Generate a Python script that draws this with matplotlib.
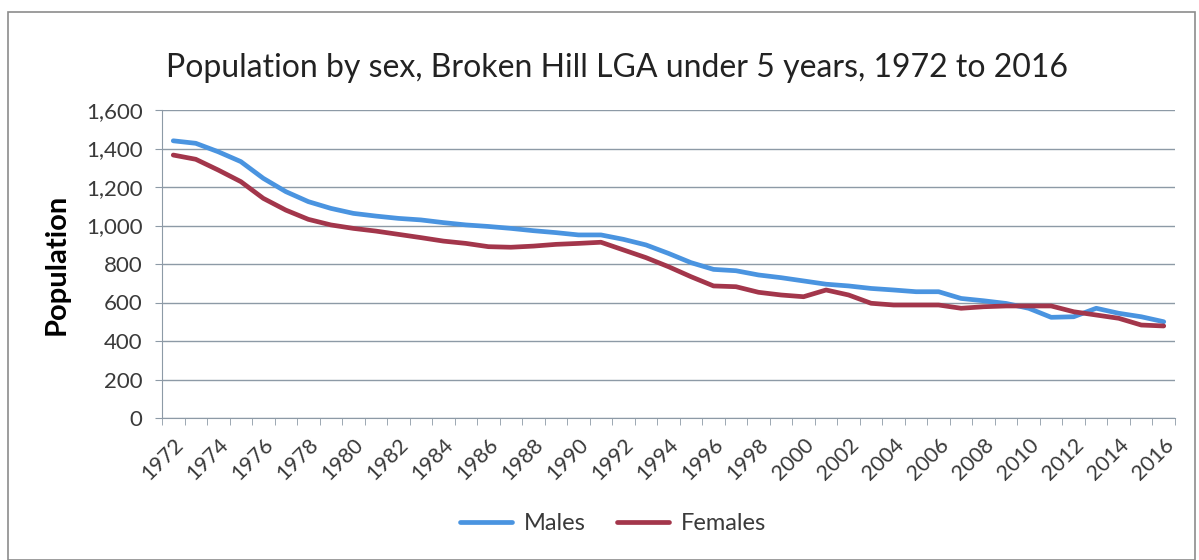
import matplotlib
matplotlib.use("Agg")
import matplotlib.pyplot as plt
from matplotlib.patches import Rectangle

years = list(range(1972, 2017))
males = [1440, 1427, 1383, 1332, 1245, 1176, 1124, 1089, 1063, 1049, 1037, 1029, 1015, 1003,
         995, 985, 973, 963, 951, 951, 928, 899, 855, 807, 772, 765, 743, 729, 712, 695,
         686, 673, 665, 656, 656, 621, 609, 595, 570, 523, 526, 570, 544, 526, 500]
females = [1366, 1344, 1288, 1228, 1141, 1080, 1032, 1003, 985, 971, 954, 937, 919, 907,
           890, 887, 893, 902, 907, 913, 873, 833, 786, 734, 686, 682, 653, 639, 630, 665,
           639, 596, 587, 587, 587, 570, 578, 582, 582, 582, 552, 535, 518, 483, 478]
yticks = [0, 200, 400, 600, 800, 1000, 1200, 1400, 1600]

plt.rcParams['font.family'] = ['Lato', 'DejaVu Sans']
W, H = 1199, 560
fig = plt.figure(figsize=(W / 100, H / 100), dpi=100)
fig.patches.append(Rectangle((8 / W, 0.0), (W - 12) / W, (H - 12) / H, transform=fig.transFigure,
                             fill=False, edgecolor='#8c8c8c', linewidth=1.2))

ax = fig.add_axes([162 / W, (H - 418) / H, (1175 - 162) / W, (418 - 110) / H])
x = list(range(len(years)))
ax.plot(x, males, color='#4A94E0', linewidth=3.4, label='Males', solid_capstyle='round')
ax.plot(x, females, color='#A3364B', linewidth=3.4, label='Females', solid_capstyle='round')

ax.set_xlim(-0.5, len(years) - 0.5)
ax.set_ylim(0, 1600)
ax.set_yticks(yticks)
ax.set_yticklabels([f"{v:,}" for v in yticks], fontsize=16, color='#3a3a3a')
ax.yaxis.grid(True, color='#8d9aa6', linewidth=1.0)
ax.set_axisbelow(True)
ax.tick_params(axis='y', length=5, color='#8d9aa6', pad=9)

ax.set_xticks([i for i, y in enumerate(years) if y % 2 == 0])
ax.set_xticklabels([str(y) for y in years if y % 2 == 0], rotation=45, ha='right', va='top',
                   rotation_mode='anchor', fontsize=15.5, color='#3a3a3a')
ax.tick_params(axis='x', length=0, pad=12)
ax.set_xticks([i - 0.5 for i in range(len(years) + 1)], minor=True)
ax.tick_params(axis='x', which='minor', length=5, color='#8d9aa6', direction='out')

for s in ['top', 'right']:
    ax.spines[s].set_visible(False)
ax.spines['left'].set_color('#8d9aa6')
ax.spines['bottom'].set_color('#8d9aa6')

ax.set_ylabel('Population', fontsize=21, fontweight='bold', labelpad=12)
fig.text(617 / W, 1 - 68 / H, 'Population by sex, Broken Hill LGA under 5 years, 1972 to 2016',
         ha='center', va='center', fontsize=23, color='#222222')
fig.legend(loc='center', bbox_to_anchor=(613 / W, 1 - 524 / H), ncol=2, frameon=False,
           fontsize=17, handlelength=2.2, handletextpad=0.5, columnspacing=1.3,
           labelcolor='#3a3a3a')

fig.savefig('out.png', dpi=100)
